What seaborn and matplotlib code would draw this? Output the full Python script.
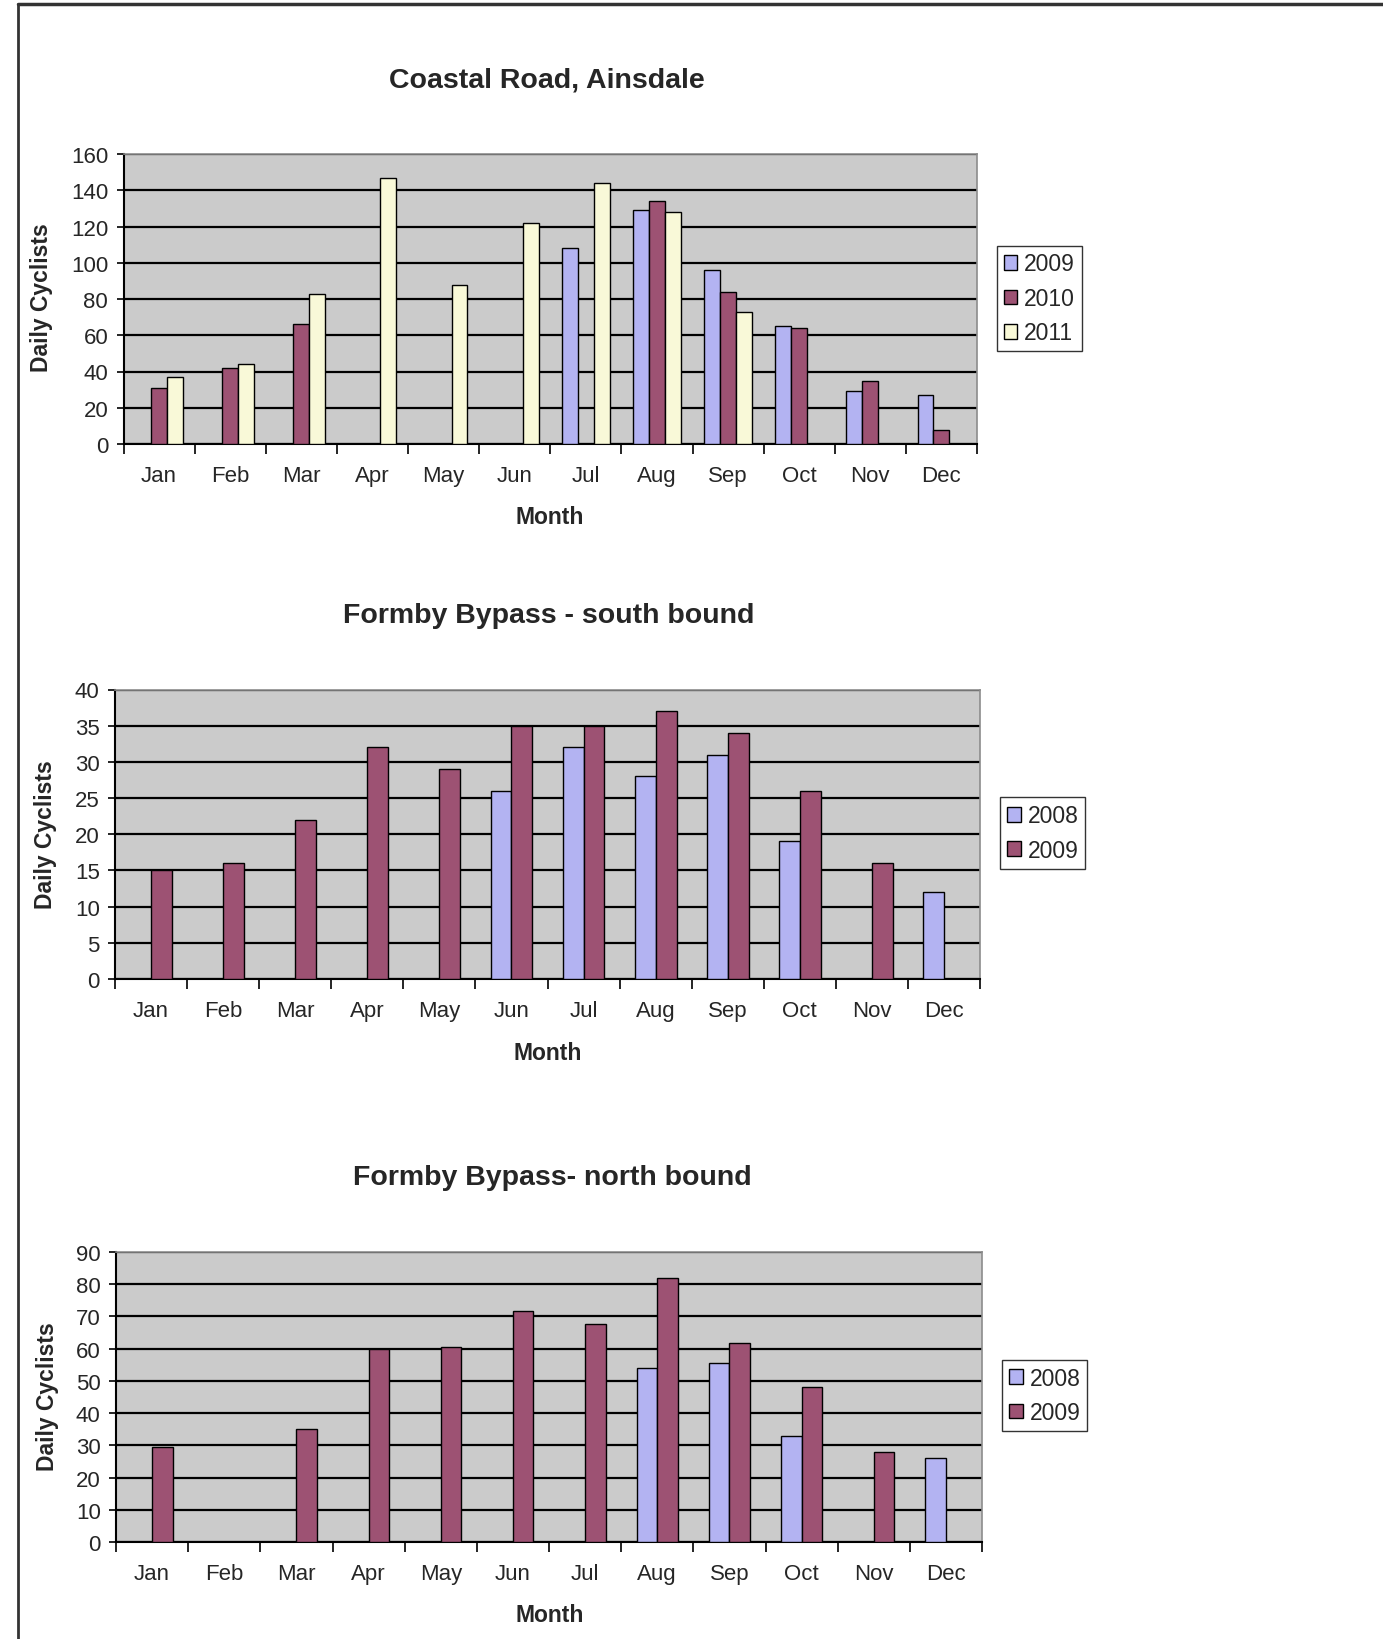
import numpy as np
import pandas as pd
import seaborn as sns
import matplotlib.pyplot as plt
from matplotlib.lines import Line2D

nan = np.nan

months = ['Jan', 'Feb', 'Mar', 'Apr', 'May', 'Jun',
          'Jul', 'Aug', 'Sep', 'Oct', 'Nov', 'Dec']

# Coastal Road, Ainsdale
coastal_2009 = [nan, nan, nan, nan, nan, nan, 108, 129, 96, 65, 29, 27]
coastal_2010 = [31, 42, 66, nan, nan, nan, nan, 134, 84, 64, 35, 8]
coastal_2011 = [37, 44, 83, 147, 88, 122, 144, 128, 73, nan, nan, nan]

# Formby Bypass - south bound
south_2008 = [nan, nan, nan, nan, nan, 26, 32, 28, 31, 19, nan, 12]
south_2009 = [15, 16, 22, 32, 29, 35, 35, 37, 34, 26, 16, nan]

# Formby Bypass - north bound
north_2008 = [nan, nan, nan, nan, nan, nan, nan, 54, 55.5, 33, nan, 26]
north_2009 = [29.5, nan, 35, 60, 60.5, 71.7, 67.7, 82, 61.7, 48, 28, nan]

blue = '#A8A8FC'
maroon = '#AA4572'
cream = '#FFFFD2'

W, H = 1383, 1640

sns.set_style('white')
plt.rcParams['font.family'] = ['Liberation Sans', 'DejaVu Sans']

fig = plt.figure(figsize=(W / 100, H / 100), dpi=100)


def long_table(series):
    df = pd.DataFrame({'Month': months, **series})
    return df.melt(id_vars='Month', var_name='Year', value_name='Cyclists').dropna()


def draw(box, series, colours, ymax, step, width, title, title_xy, month_xy, ylab_xy, leg_y):
    left, top, right, bottom = box
    ax = fig.add_axes([left / W, 1 - bottom / H, (right - left) / W, (bottom - top) / H])
    years = list(series.keys())
    sns.barplot(data=long_table(series), x='Month', y='Cyclists', hue='Year',
                order=months, hue_order=years,
                palette=dict(zip(years, colours)), width=width,
                edgecolor='black', linewidth=1.0, errorbar=None, ax=ax,
                zorder=3)
    ax.set_facecolor('#CBCBCB')
    ax.set_xlim(-0.5, 11.5)
    ax.set_ylim(0, ymax)
    ax.set_yticks(np.arange(0, ymax + 1, step))
    ax.set_axisbelow(True)
    ax.yaxis.grid(True, color='black', linewidth=1.6)
    ax.set_xlabel('')
    ax.set_ylabel('')
    for s in ['top', 'right']:
        ax.spines[s].set_color('#8C8C8C')
        ax.spines[s].set_linewidth(1.2)
    for s in ['left', 'bottom']:
        ax.spines[s].set_color('black')
        ax.spines[s].set_linewidth(1.5)
    ax.set_xticks(range(12))
    ax.set_xticklabels(months)
    ax.set_xticks(np.arange(-0.5, 12, 1), minor=True)
    ax.tick_params(axis='x', which='major', length=0, pad=15, labelsize=16)
    ax.tick_params(axis='x', which='minor', length=7, width=1.2, color='black',
                   direction='out', bottom=True)
    ax.tick_params(axis='y', length=5, width=1.2, color='black', direction='out',
                   left=True, pad=6, labelsize=16)

    sns.move_legend(ax, 'center left', bbox_to_anchor=(1.023, leg_y),
                    frameon=True, fancybox=False, edgecolor='black',
                    fontsize=16.5, title=None, handlelength=0.6,
                    handleheight=0.6, handletextpad=0.3, borderpad=0.3,
                    labelspacing=0.5, borderaxespad=0)
    ax.get_legend().get_frame().set_linewidth(1.0)

    fig.text(title_xy[0] / W, 1 - title_xy[1] / H, title, ha='center',
             va='center', fontsize=20.5, fontweight='bold')
    fig.text(month_xy[0] / W, 1 - month_xy[1] / H, 'Month', ha='center',
             va='center', fontsize=16.5, fontweight='bold')
    fig.text(ylab_xy[0] / W, 1 - ylab_xy[1] / H, 'Daily Cyclists', ha='center',
             va='center', rotation=90, fontsize=16.5, fontweight='bold')
    return ax


draw((123.5, 155, 977, 445),
     {'2009': coastal_2009, '2010': coastal_2010, '2011': coastal_2011},
     [blue, maroon, cream], 160, 20, 0.67, 'Coastal Road, Ainsdale',
     (547, 80), (550, 518), (42, 298), 0.502)

draw((115, 690.5, 980, 980),
     {'2008': south_2008, '2009': south_2009},
     [blue, maroon], 40, 5, 0.58, 'Formby Bypass - south bound',
     (549, 616), (548, 1054), (46, 835), 0.504)

draw((116, 1253, 982, 1543),
     {'2008': north_2008, '2009': north_2009},
     [blue, maroon], 90, 10, 0.57, 'Formby Bypass- north bound',
     (552, 1178), (550, 1616), (48, 1397), 0.505)

# page border
fig.add_artist(Line2D([18 / W, 1], [1 - 5 / H, 1 - 5 / H], color='#333333',
                      linewidth=2.5, transform=fig.transFigure))
fig.add_artist(Line2D([18 / W, 18 / W], [0, 1 - 5 / H], color='#333333',
                      linewidth=2.0, transform=fig.transFigure))

fig.savefig('out.png', dpi=100)
